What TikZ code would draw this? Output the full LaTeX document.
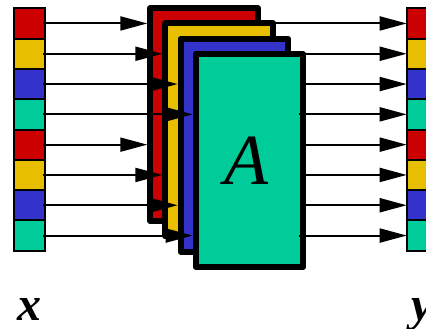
\documentclass[tikz,border=0pt]{standalone}
\usepackage{fontspec}
\setmainfont{Liberation Serif}
\usepackage{tikz}
\usetikzlibrary{arrows.meta}
\definecolor{red}{HTML}{CC0000}
\definecolor{yellow}{HTML}{E8BE00}
\definecolor{blue}{HTML}{3333CC}
\definecolor{green}{HTML}{00CC99}
\tikzset{
  cell/.style={draw=black, line width=2pt, minimum width=30.7pt, minimum height=30.3pt, inner sep=0pt, outer sep=0pt},
  layer/.style={draw=black, line width=6pt, line join=round, minimum width=107.5pt, minimum height=213pt, inner sep=0pt},
  wire/.style={draw=black, line width=2pt, -{Triangle[length=27pt,width=14pt]}},
  vlab/.style={font=\fontsize{48}{48}\selectfont\bfseries\itshape, inner sep=0pt, anchor=base},
  mlab/.style={font=\fontsize{72}{72}\selectfont\itshape, inner sep=0pt}
}

\begin{document}
\begin{tikzpicture}[x=1pt,y=-1pt]
  \useasboundingbox (0,0) rectangle (426,329);
  \clip (0,0) rectangle (426,329);

  \foreach \c [count=\i] in {red,yellow,blue,green,red,yellow,blue,green} {
    \node[cell, fill=\c] (x\i) at (29.65, {23.45+30.3*(\i-1)}) {};
    \node[cell, fill=\c] (y\i) at (422.05, {23.45+30.3*(\i-1)}) {};
  }

  \foreach \c [count=\k] in {red,yellow,blue,green} {
    \node[layer, fill=\c] (A\k) at ({204.05+15.13*(\k-1)}, {114.5+15.33*(\k-1)}) {};
    \foreach \r [evaluate=\r as \i using int(\k+\r)] in {0,4} {
      \draw[wire] ([xshift=-2pt]x\i.east) -- (A\k.west |- x\i);
      \draw[wire] (A\k.east |- x\i) ++(-7.5,0) -- (y\i.west);
    }
  }

  \node[mlab] (Alab) at ([xshift=-3pt]A4.center) {A};
  \node[vlab] (xlab) at (29.5,320) {x};
  \node[vlab] (ylab) at (422,320) {y};
\end{tikzpicture}
\end{document}
